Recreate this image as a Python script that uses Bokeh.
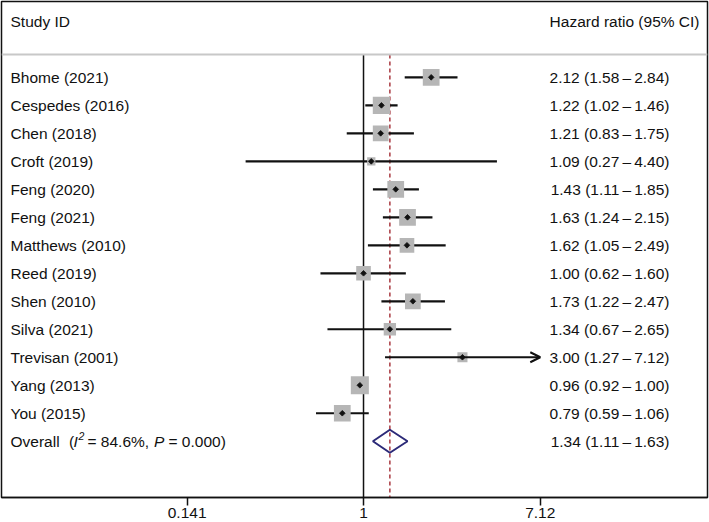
import math
from bokeh.plotting import figure
from bokeh.models import Range1d, FixedTicker, Arrow, OpenHead, Span, CustomJSTickFormatter
from bokeh.core.properties import value
from bokeh.embed import file_html
from bokeh.resources import INLINE

# ---------------- data ----------------
studies = ["Bhome (2021)", "Cespedes (2016)", "Chen (2018)", "Croft (2019)",
           "Feng (2020)", "Feng (2021)", "Matthews (2010)", "Reed (2019)",
           "Shen (2010)", "Silva (2021)", "Trevisan (2001)", "Yang (2013)",
           "You (2015)"]
hr = [2.12, 1.22, 1.21, 1.09, 1.43, 1.63, 1.62, 1.00, 1.73, 1.34, 3.00, 0.96, 0.79]
ci_lo = [1.58, 1.02, 0.83, 0.27, 1.11, 1.24, 1.05, 0.62, 1.22, 0.67, 1.27, 0.92, 0.59]
ci_hi = [2.84, 1.46, 1.75, 4.40, 1.85, 2.15, 2.49, 1.60, 2.47, 2.65, 7.12, 1.00, 1.06]
weights = [9.4, 10.0, 8.3, 2.3, 9.4, 9.4, 7.2, 7.2, 8.3, 5.1, 3.4, 10.9, 9.4]

overall_label = "Overall"
overall_hr = 1.34
overall_lo = 1.11
overall_hi = 1.63
i2_text = "84.6%"
p_text = "0.000"

x_ticks = [0.141, 1, 7.12]
x_tick_labels = ["0.141", "1", "7.12"]
header_left = "Study ID"
header_right = "Hazard ratio (95% CI)"

# ---------------- layout / style ----------------
FONT = value("Liberation Sans")
FS = "15.5px"
TXT = "#111111"
BOX_GRAY = "#b6b6b6"
DIAMOND_BLUE = "#2c2a78"
DASH_RED = "#a8383f"

n = len(studies)
rows = list(range(1, n + 1))
overall_row = n + 1
ROW_TOP = -1.71
ROW_BOTTOM = overall_row + 2.01
HEADER_Y = -1.0
SEP_Y = 0.18

x_start = 10 ** -1.746
x_end = 10 ** 1.659

p = figure(width=709, height=522, x_axis_type="log",
           x_range=Range1d(x_start, x_end),
           y_range=Range1d(ROW_BOTTOM, ROW_TOP),
           output_backend="svg", toolbar_location=None,
           min_border_left=1, min_border_right=2, min_border_top=1,
           min_border_bottom=25)
p.background_fill_color = "white"
p.border_fill_color = "white"
p.outline_line_color = "#111111"
p.outline_line_width = 1.5
p.xgrid.visible = False
p.ygrid.visible = False
p.yaxis.visible = False

ax = p.xaxis[0]
ax.ticker = FixedTicker(ticks=x_ticks)
ax.formatter = CustomJSTickFormatter(args=dict(labels=x_tick_labels),
                                     code="return labels[index];")
ax.axis_line_color = "#111111"
ax.axis_line_width = 1.5
ax.major_tick_line_color = "#111111"
ax.major_tick_line_width = 1.5
ax.major_tick_out = 8
ax.major_tick_in = 0
ax.minor_tick_out = 0
ax.minor_tick_in = 0
ax.major_label_text_font = "Liberation Sans"
ax.major_label_text_font_size = FS
ax.major_label_text_color = TXT
ax.major_label_standoff = 2

# header separator
p.add_layout(Span(location=SEP_Y, dimension="width", line_color="#c8c8c8", line_width=2))

# null line and overall dashed line
p.segment(x0=[1], y0=[SEP_Y], x1=[1], y1=[ROW_BOTTOM], line_color="#111111", line_width=1.5)
p.segment(x0=[overall_hr], y0=[SEP_Y], x1=[overall_hr], y1=[ROW_BOTTOM],
          line_color=DASH_RED, line_width=1.5, line_dash="4 3")

# CI lines (arrow when clipped at axis max)
axis_max = max(x_ticks)
seg_idx = [i for i in range(n) if ci_hi[i] < axis_max]
arr_idx = [i for i in range(n) if ci_hi[i] >= axis_max]
p.segment(x0=[ci_lo[i] for i in seg_idx], y0=[rows[i] for i in seg_idx],
          x1=[ci_hi[i] for i in seg_idx], y1=[rows[i] for i in seg_idx],
          line_color="#111111", line_width=2.2)
for i in arr_idx:
    p.add_layout(Arrow(x_start=ci_lo[i], y_start=rows[i], x_end=axis_max, y_end=rows[i],
                       line_color="#111111", line_width=2.2,
                       end=OpenHead(size=10, line_color="#111111", line_width=2)))

# weight boxes
sizes = [5.46 * (w ** 0.5) for w in weights]
p.scatter(x=hr, y=rows, size=sizes, marker="square", fill_color=BOX_GRAY,
          line_color=None)
# point estimates (small diamond)
p.scatter(x=hr, y=rows, size=4, marker="square", angle=math.pi / 4,
          fill_color="#111111", line_color="#111111", line_width=0.8)

# overall diamond
h = 0.41
p.patch(x=[overall_lo, overall_hr, overall_hi, overall_hr],
        y=[overall_row, overall_row - h, overall_row, overall_row + h],
        fill_alpha=0, line_color=DIAMOND_BLUE, line_width=2)

# ---------------- text ----------------
def txt(x, y, t, x_offset=0, y_offset=0, align="left", style="normal", size=FS):
    p.text(x=x, y=y, text=t, x_offset=x_offset, y_offset=y_offset,
           text_align=align, text_baseline="middle", text_font=FONT,
           text_font_size=size, text_color=TXT, text_font_style=style)

txt([x_start], [HEADER_Y], [header_left], x_offset=9)
txt([x_end], [HEADER_Y], [header_right], x_offset=-8, align="right")

txt([x_start] * n, rows, studies, x_offset=9)
labels = [f"{a:.2f} ({b:.2f}\u2009\u2013\u2009{c:.2f})" for a, b, c in zip(hr, ci_lo, ci_hi)]
txt([x_end] * n, rows, labels, x_offset=-38, align="right")

# overall row label, pieced for italics / superscript
txt([x_start], [overall_row], [overall_label], x_offset=9)
txt([x_start], [overall_row], ["("], x_offset=67.5)
txt([x_start], [overall_row], ["I"], x_offset=72, style="italic")
txt([x_start], [overall_row], ["2"], x_offset=77, y_offset=-5, style="italic", size="10.5px")
txt([x_start], [overall_row], [f"= {i2_text},"], x_offset=86)
txt([x_start], [overall_row], ["P"], x_offset=152.5, style="italic")
txt([x_start], [overall_row], [f"= {p_text})"], x_offset=167)
txt([x_end], [overall_row],
    [f"{overall_hr:.2f} ({overall_lo:.2f}\u2009\u2013\u2009{overall_hi:.2f})"],
    x_offset=-38, align="right")

open("out.html", "w").write(file_html(p, INLINE))
